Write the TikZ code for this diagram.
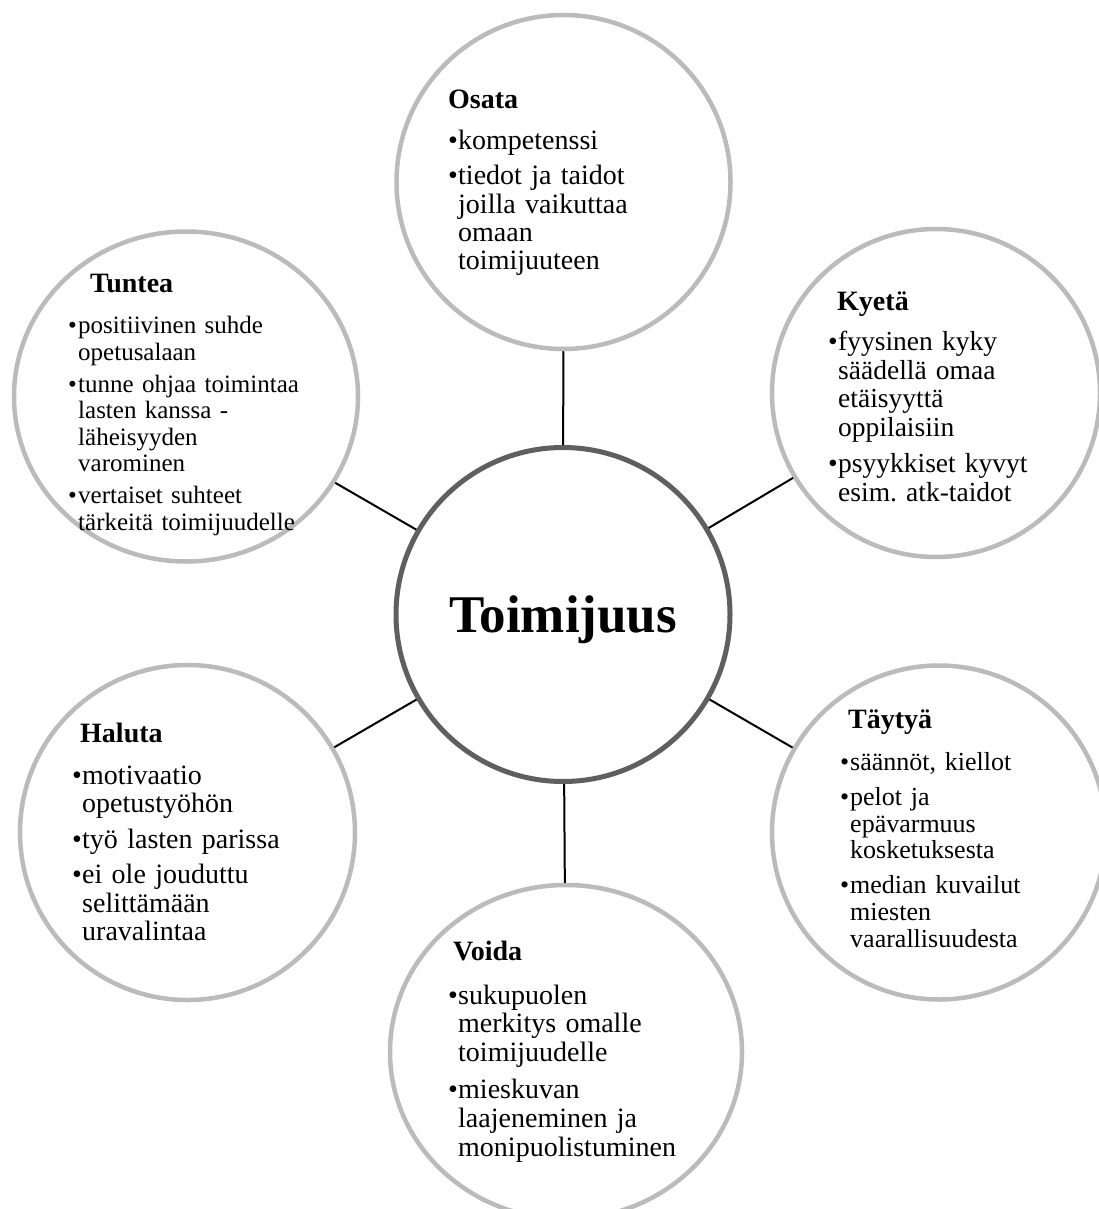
\documentclass[tikz,border=0pt]{standalone}
\usepackage{fontspec}
\setmainfont{Liberation Serif}
\usetikzlibrary{shapes.geometric}
\definecolor{ringgray}{RGB}{187,187,187}
\definecolor{coregray}{RGB}{95,95,95}
\frenchspacing
\newcommand\litem[1]{\hangindent=10pt\hangafter=1\noindent\hbox to 10pt{\textbullet\hss}#1\par}
\tikzset{
  ring/.style={ellipse, draw=ringgray, line width=4.5pt, fill=white, inner sep=0pt},
  core/.style={ellipse, draw=coregray, line width=5pt, fill=white, inner sep=0pt,
    minimum width=334pt, minimum height=334pt, text depth=0pt,
    font=\bfseries\fontsize{53}{56}\selectfont},
  link/.style={draw=black, line width=2pt},
  head/.style={anchor=base west, inner sep=0pt, font=\bfseries\fontsize{28}{30}\selectfont},
  blist/.style={anchor=base west, inner sep=0pt, text width=330pt},
}
\begin{document}
\begin{tikzpicture}[x=1pt,y=-1pt]
\clip (0,0) rectangle (1099,1209);
\fill[white] (0,0) rectangle (1099,1209);
% circles
\node[core] (core) at (563,614.5) {Toimijuus};
\node[ring, minimum width=334pt, minimum height=334pt] (osata) at (563.5,182) {};
\node[ring, minimum width=328pt, minimum height=328pt] (kyeta) at (936,393) {};
\node[ring, minimum width=344pt, minimum height=330pt] (tuntea) at (186,396.5) {};
\node[ring, minimum width=335pt, minimum height=335pt] (haluta) at (187.5,832.5) {};
\node[ring, minimum width=334pt, minimum height=334pt] (taytya) at (939,832.5) {};
\node[ring, minimum width=352pt, minimum height=334pt] (voida) at (566,1052) {};
% connectors
\draw[link] (core) -- (osata);
\draw[link] (core) -- (kyeta);
\draw[link] (core) -- (tuntea);
\draw[link] (core) -- (haluta);
\draw[link] (core) -- (taytya);
\draw[link] (core) -- (voida);
% Osata
\node[head] (osataH) at (448,108.3) {Osata};
\node[blist, font=\fontsize{28}{28.3}\selectfont] (osataL) at (448,150) {%
\litem{kompetenssi}\vspace{6.7pt}%
\litem{tiedot ja taidot\newline joilla vaikuttaa\newline omaan\newline toimijuuteen}};
% Kyeta
\node[head] (kyetaH) at (837,310) {Kyetä};
\node[blist, font=\fontsize{27.5}{28.5}\selectfont] (kyetaL) at (828,350.5) {%
\litem{fyysinen kyky\newline säädellä omaa\newline etäisyyttä\newline oppilaisiin}\vspace{8pt}%
\litem{psyykkiset kyvyt\newline esim. atk-taidot}};
% Tuntea
\node[head] (tunteaH) at (90,292) {Tuntea};
\node[blist, font=\fontsize{25}{26.5}\selectfont] (tunteaL) at (68,333.5) {%
\litem{positiivinen suhde\newline opetusalaan}\vspace{5.5pt}%
\litem{tunne ohjaa toimintaa\newline lasten kanssa -\newline läheisyyden\newline varominen}\vspace{5.5pt}%
\litem{vertaiset suhteet\newline tärkeitä toimijuudelle}};
% Haluta
\node[head] (halutaH) at (80,742) {Haluta};
\node[blist, font=\fontsize{28}{28.3}\selectfont] (halutaL) at (72,784) {%
\litem{motivaatio\newline opetustyöhön}\vspace{7.5pt}%
\litem{työ lasten parissa}\vspace{7.5pt}%
\litem{ei ole jouduttu\newline selittämään\newline uravalintaa}};
% Taytya
\node[head] (taytyaH) at (848,728) {Täytyä};
\node[blist, font=\fontsize{26}{26.8}\selectfont] (taytyaL) at (840,770.5) {%
\litem{säännöt, kiellot}\vspace{8pt}%
\litem{pelot ja\newline epävarmuus\newline kosketuksesta}\vspace{8pt}%
\litem{median kuvailut\newline miesten\newline vaarallisuudesta}};
% Voida
\node[head] (voidaH) at (453,960) {Voida};
\node[blist, font=\fontsize{28}{28.7}\selectfont] (voidaL) at (448,1004) {%
\litem{sukupuolen\newline merkitys omalle\newline toimijuudelle}\vspace{8.5pt}%
\litem{mieskuvan\newline laajeneminen ja\newline monipuolistuminen}};
\end{tikzpicture}
\end{document}
